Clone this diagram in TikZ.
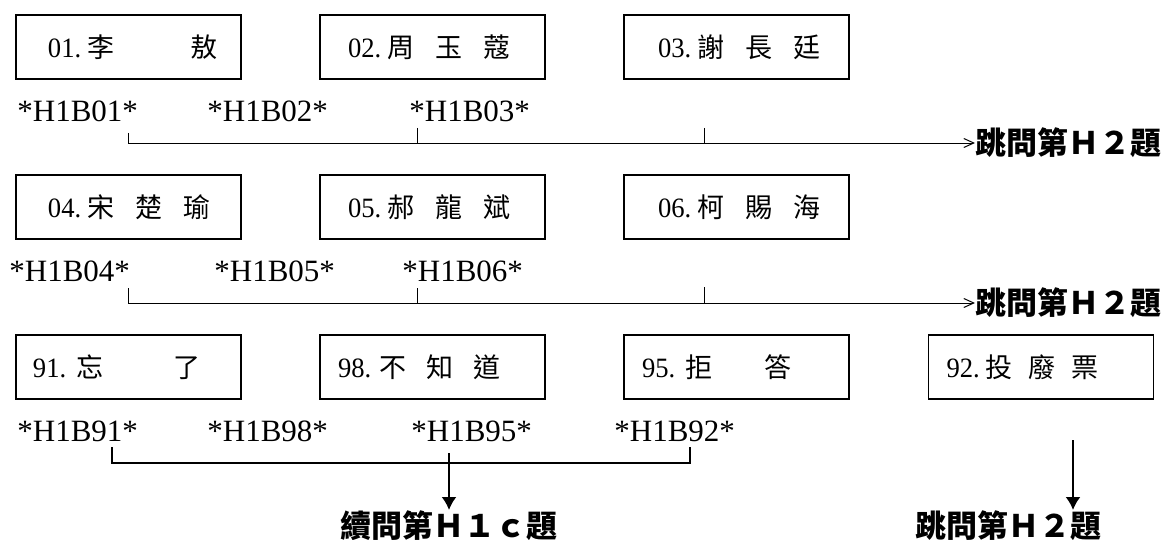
\documentclass[tikz,border=0pt]{standalone}
\usepackage{fontspec}
\setmainfont{Liberation Serif}
\newfontfamily\cjk{Noto Sans CJK TC}
\newfontfamily\numfont[FakeStretch=0.95]{Liberation Serif}
\usetikzlibrary{arrows.meta}

\tikzset{
  namebox/.style={draw, line width=0.6pt, text width=112.5pt, minimum height=32pt,
    inner xsep=0pt, align=left, font=\numfont\fontsize{14}{14}\selectfont},
  code/.style={inner sep=0pt, font=\fontsize{15.5}{15.5}\selectfont},
  skipto/.style={inner sep=0pt, font=\cjk\bfseries\fontsize{15.5}{15.5}\selectfont},
  jumpline/.style={line width=0.5pt},
  keepline/.style={line width=1pt},
}

\begin{document}
\begin{tikzpicture}[x=0.5pt, y=-0.5pt]
\useasboundingbox (0,0) rectangle (1172,540);

% answer boxes
\node[namebox] (b01) at (128.5,47) {\hspace*{16pt}01.{\cjk\fontsize{13.5}{13.5}\selectfont\hspace{3pt}李\hspace{38pt}敖}};
\node[namebox] (b02) at (432.5,47) {\hspace*{14pt}02.{\cjk\fontsize{13.5}{13.5}\selectfont\hspace{3pt}周\hspace{10.5pt}玉\hspace{10.5pt}蔻}};
\node[namebox] (b03) at (736.5,47) {\hspace*{17pt}03.{\cjk\fontsize{13.5}{13.5}\selectfont\hspace{3pt}謝\hspace{10.5pt}長\hspace{10.5pt}廷}};

\node[namebox] (b04) at (128.5,207) {\hspace*{16pt}04.{\cjk\fontsize{13.5}{13.5}\selectfont\hspace{3pt}宋\hspace{10.5pt}楚\hspace{10.5pt}瑜}};
\node[namebox] (b05) at (432.5,207) {\hspace*{14pt}05.{\cjk\fontsize{13.5}{13.5}\selectfont\hspace{3pt}郝\hspace{10.5pt}龍\hspace{10.5pt}斌}};
\node[namebox] (b06) at (736.5,207) {\hspace*{17pt}06.{\cjk\fontsize{13.5}{13.5}\selectfont\hspace{3pt}柯\hspace{10.5pt}賜\hspace{10.5pt}海}};

\node[namebox] (b91) at (128.5,367) {\hspace*{8.5pt}91.{\cjk\fontsize{13.5}{13.5}\selectfont\hspace{5pt}忘\hspace{35pt}了}};
\node[namebox] (b98) at (432.5,367) {\hspace*{9pt}98.{\cjk\fontsize{13.5}{13.5}\selectfont\hspace{4pt}不\hspace{10pt}知\hspace{10pt}道}};
\node[namebox] (b95) at (736.5,367) {\hspace*{9pt}95.{\cjk\fontsize{13.5}{13.5}\selectfont\hspace{5pt}拒\hspace{26pt}答}};
\node[namebox] (b92) at (1041,367) {\hspace*{9pt}92.{\cjk\fontsize{13.5}{13.5}\selectfont\hspace{3pt}投\hspace{8pt}廢\hspace{8pt}票}};

% codes
\node[code, anchor=base west] (c01) at (17,121) {*H1B01*};
\node[code, anchor=base west] (c02) at (207,121) {*H1B02*};
\node[code, anchor=base west] (c03) at (409,121) {*H1B03*};

\node[code, anchor=base west] (c04) at (9,281) {*H1B04*};
\node[code, anchor=base west] (c05) at (214,281) {*H1B05*};
\node[code, anchor=base west] (c06) at (402,281) {*H1B06*};

\node[code, anchor=base west] (c91) at (17,441) {*H1B91*};
\node[code, anchor=base west] (c98) at (207,441) {*H1B98*};
\node[code, anchor=base west] (c95) at (411,441) {*H1B95*};
\node[code, anchor=base west] (c92) at (614,441) {*H1B92*};

% where to go next
\node[skipto, anchor=west] (s1) at (975,143) {跳問第Ｈ２題};
\node[skipto, anchor=west] (s2) at (975,303) {跳問第Ｈ２題};
\node[skipto, anchor=north] (s3) at (449,510) {續問第Ｈ１ｃ題};
\node[skipto, anchor=north] (s4) at (1008.5,510) {跳問第Ｈ２題};

% row 1
\coordinate (r1a) at (128,133);
\coordinate (r1b) at (417,128);
\coordinate (r1c) at (704,128);
\draw[jumpline, -{Straight Barb[length=5pt,width=4.5pt]}] (r1a) |- (s1.west);
\draw[jumpline] (r1b) -- (r1b |- s1.west);
\draw[jumpline] (r1c) -- (r1c |- s1.west);

% row 2
\coordinate (r2a) at (128,288);
\coordinate (r2b) at (417,288);
\coordinate (r2c) at (704,287);
\draw[jumpline, -{Straight Barb[length=5pt,width=4.5pt]}] (r2a) |- (s2.west);
\draw[jumpline] (r2b) -- (r2b |- s2.west);
\draw[jumpline] (r2c) -- (r2c |- s2.west);

% row 3
\coordinate (k91) at (112,447);
\coordinate (k92) at (690,447);
\coordinate (j95) at (449,463);
\coordinate (k95) at (449,453);
\coordinate (k96) at (1073,440);
\draw[keepline] (k91) |- (j95) -| (k92);
\draw[keepline, -{Latex[length=6.5pt,width=7.5pt]}] (k95) -- (s3.north);
\draw[keepline, -{Latex[length=6.5pt,width=7.5pt]}] (k96) -- (k96 |- s4.north);

\end{tikzpicture}
\end{document}
